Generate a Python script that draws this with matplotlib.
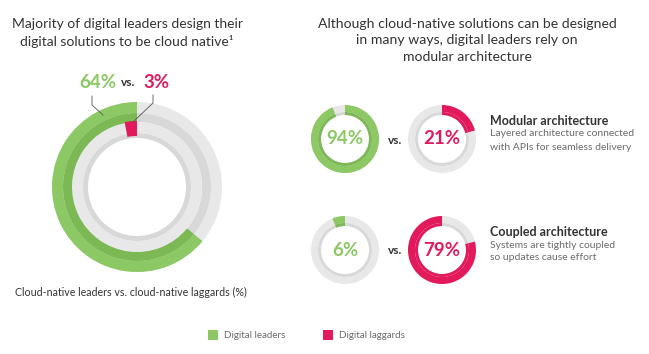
import matplotlib.pyplot as plt
from matplotlib.patches import Wedge, Rectangle

# data
big_leaders = 64
big_laggards = 3
arch_names = ["Modular architecture", "Coupled architecture"]
arch_desc = [["Layered architecture connected", "with APIs for seamless delivery"],
             ["Systems are tightly coupled", "so updates cause effort"]]
arch_leaders = [94, 6]
arch_laggards = [21, 79]
legend_labels = ["Digital leaders", "Digital laggards"]

# style
GREEN = "#8cc864"
GREEN_D = "#7cb955"
RED = "#e2195b"
GREY = "#e8e8e8"
GREY_D = "#d8d8d8"
TXT = "#333333"
SUB = "#6b6b6b"
H = 354
FONT = "Lato"

# which way each small arc runs from 12 o'clock (screen clockwise or not)
leader_cw = [True, False]
laggard_cw = [True, False]

fig = plt.figure(figsize=(6.49, 3.54), dpi=100)
ax = fig.add_axes([0, 0, 1, 1])
ax.set_xlim(0, 649)
ax.set_ylim(0, H)
ax.axis("off")


def arc(cx, cy, r, w, pct, color, cw=False):
    # cy given in image pixels (from top)
    span = 360 * pct / 100
    if cw:
        t1, t2 = 90 - span, 90
    else:
        t1, t2 = 90, 90 + span
    ax.add_patch(Wedge((cx, H - cy), r, t1, t2, width=w, color=color, lw=0))


def txt(x, y, s, **kw):
    kw.setdefault("family", FONT)
    kw.setdefault("color", TXT)
    ax.text(x, H - y, s, **kw)


# titles
txt(127, 24, "Majority of digital leaders design their", fontsize=10, ha="center", va="center")
txt(127, 41, "digital solutions to be cloud native\u00b9", fontsize=10, ha="center", va="center")
for i, line in enumerate(["Although cloud-native solutions can be designed",
                          "in many ways, digital leaders rely on",
                          "modular architecture"]):
    txt(467, 24 + 16.5 * i, line, fontsize=10.1, ha="center", va="center")

# big donut
cx, cy = 137, 187
arc(cx, cy, 85, 11, 100, GREY)
arc(cx, cy, 74, 9, 100, GREY_D)
arc(cx, cy, 65, 11, 100, GREY)
arc(cx, cy, 54, 5, 100, GREY_D)
arc(cx, cy, 85, 11, big_leaders, GREEN)
arc(cx, cy, 74, 9, big_leaders, GREEN_D)
arc(cx, cy, 66, 15, big_laggards, RED)

txt(98, 83, f"{big_leaders}%", fontsize=13.5, color=GREEN, weight="bold", ha="center", va="center")
txt(128, 83, "vs.", fontsize=8.5, color=TXT, weight="bold", ha="center", va="center")
txt(156, 83, f"{big_laggards}%", fontsize=13.5, color=RED, weight="bold", ha="center", va="center")
ax.plot([92, 92, 103], [H - 96, H - 105, H - 115], color="#555555", lw=0.6)
ax.plot([153, 153, 133], [H - 95, H - 103, H - 122], color="#555555", lw=0.6)

txt(15, 292, "Cloud-native leaders vs. cloud-native laggards (%)", fontsize=7.7, ha="left", va="center")

# small donuts
rows = [139, 250]
for i in range(2):
    y = rows[i]
    for x, val, col, col_d, cw in [(345, arch_leaders[i], GREEN, GREEN_D, leader_cw[i]),
                                   (442, arch_laggards[i], RED, RED, laggard_cw[i])]:
        arc(x, y, 34, 7, 100, GREY)
        arc(x, y, 27, 3, 100, GREY_D)
        arc(x, y, 34, 7, val, col, cw)
        arc(x, y, 27, 3, val, col_d, cw)
        txt(x, y, f"{val}%", fontsize=13.5, color=col, weight="bold", ha="center", va="center")
    txt(395, y + 1, "vs.", fontsize=8.5, weight="bold", ha="center", va="center")
    txt(490, y - 18, arch_names[i], fontsize=9, weight="bold", ha="left", va="center")
    for j, line in enumerate(arch_desc[i]):
        txt(490, y - 5 + 13 * j, line, fontsize=7.5, color=SUB, ha="left", va="center")

# legend
for lx, col, lab in [(208, GREEN, legend_labels[0]), (323, RED, legend_labels[1])]:
    ax.add_patch(Rectangle((lx, H - 340), 10, 10, color=col, lw=0))
    txt(lx + 16, 335, lab, fontsize=7, color=SUB, ha="left", va="center")

fig.savefig("out.png", dpi=100)
